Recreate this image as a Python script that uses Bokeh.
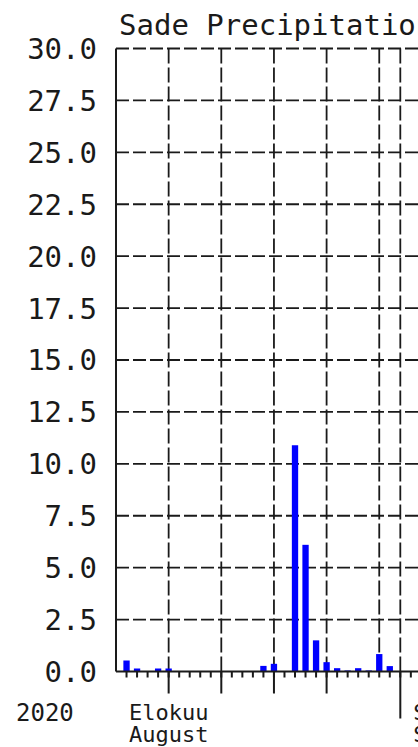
from bokeh.plotting import figure
from bokeh.models import Range1d
from bokeh.embed import file_html
from bokeh.resources import INLINE
from bokeh.core.properties import value

# ---- data (day numbers counted from 1 Aug 2020; 32 = 1 Sep) ----
days = [6, 7, 8, 9, 10, 11, 12, 13, 14, 15, 16, 17, 18, 19, 20,
        21, 22, 23, 24, 25, 26, 27, 28, 29, 30, 31, 32, 33, 34]
precip = [0.53, 0.15, 0.0, 0.14, 0.14, 0.0, 0.0, 0.0, 0.03, 0.0, 0.0, 0.0, 0.0, 0.27, 0.37,
          0.0, 10.9, 6.1, 1.5, 0.45, 0.16, 0.05, 0.16, 0.05, 0.84, 0.26, 0.0, 0.0, 0.95]

y_ticks = [0.0, 2.5, 5.0, 7.5, 10.0, 12.5, 15.0, 17.5, 20.0, 22.5, 25.0, 27.5, 30.0]
y_tick_labels = [f"{v:.1f}" for v in y_ticks]
minor_days = [6, 7, 8, 9, 10, 11, 12, 13, 14, 15, 16, 17, 18, 19, 20,
              21, 22, 23, 24, 25, 26, 27, 28, 29, 30, 31, 32, 33]
major_days = [10, 15, 20, 25]
grid_days = [10, 15, 20, 25, 30, 32]
month_start = [1, 32]
month_fi = ["Elokuu", "Syyskuu"]
month_en = ["August", "September"]
year_label = ["2020"]
title_text = ["Sade Precipitation"]

# ---- scales ----
DAY0 = 5                      # first day shown (left edge of the chart)
YMAX = 30.0
PXD = 10.53                   # pixels per day
PXY = 20.767                  # pixels per mm
W, H = 418, 747
AX_X, AX_Y = 115.5, 671       # pixel position of the axes corner
x_start = DAY0 - AX_X / PXD
x_end = x_start + W / PXD
y_end = AX_Y / PXY
y_start = y_end - H / PXY

INK = "#1a1a1a"
FONT = "DejaVu Sans Mono"

p = figure(width=W, height=H, x_range=Range1d(x_start, x_end), y_range=Range1d(y_start, y_end),
           output_backend="svg", toolbar_location=None,
           x_axis_location=None, y_axis_location=None,
           min_border_left=0, min_border_right=0, min_border_top=0, min_border_bottom=0)
p.xgrid.visible = False
p.ygrid.visible = False
p.outline_line_color = None
p.background_fill_color = "white"
p.border_fill_color = "white"

# dashed grid
p.segment(x0=grid_days, y0=0, x1=grid_days, y1=YMAX,
          line_color=INK, line_width=1.8, line_dash="15 4")
p.segment(x0=DAY0, y0=y_ticks[1:], x1=x_end, y1=y_ticks[1:],
          line_color=INK, line_width=1.8, line_dash="13 4")

# bars
p.vbar(x=days, top=precip, bottom=0, width=0.6, fill_color="#0000ff", line_color=None)

# axes lines
p.segment(x0=DAY0, y0=0, x1=DAY0, y1=YMAX, line_color=INK, line_width=2)
p.segment(x0=DAY0, y0=0, x1=x_end, y1=0, line_color=INK, line_width=2)

# x ticks
p.segment(x0=minor_days, y0=0, x1=minor_days, y1=-6 / PXY, line_color=INK, line_width=2)
p.segment(x0=major_days, y0=0, x1=major_days, y1=-22 / PXY, line_color=INK, line_width=2)
p.segment(x0=month_start[1:], y0=0, x1=month_start[1:], y1=-47 / PXY, line_color=INK, line_width=2)

# y tick labels
p.text(x=[DAY0] * len(y_ticks), y=y_ticks, text=y_tick_labels, x_offset=-19,
       text_font=value(FONT), text_font_size="29px", text_color=INK,
       text_align="right", text_baseline="middle")

# month labels
label_x = [max(m, DAY0) for m in month_start]
p.text(x=label_x, y=0, text=month_fi, x_offset=13, y_offset=41,
       text_font=value(FONT), text_font_size="22px", text_color=INK,
       text_align="left", text_baseline="alphabetic")
p.text(x=label_x, y=0, text=month_en, x_offset=13, y_offset=63,
       text_font=value(FONT), text_font_size="22px", text_color=INK,
       text_align="left", text_baseline="alphabetic")

# year and title
p.text(x=[DAY0], y=[0], text=year_label, x_offset=-100, y_offset=40,
       text_font=value(FONT), text_font_size="24px", text_color=INK,
       text_align="left", text_baseline="alphabetic")
p.text(x=[DAY0], y=[YMAX], text=title_text, x_offset=3, y_offset=-23,
       text_font=value(FONT), text_font_size="29px", text_color=INK,
       text_align="left", text_baseline="alphabetic")

open("out.html", "w").write(file_html(p, INLINE))
